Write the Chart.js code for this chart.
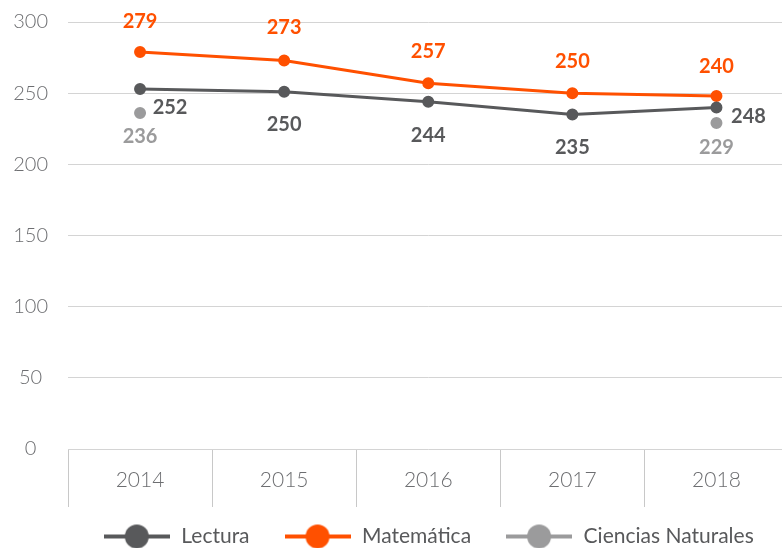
<!DOCTYPE html>
<html>
<head>
<meta charset="utf-8">
<script src="https://cdn.jsdelivr.net/npm/chart.js@4"></script>
<style>
  html, body { margin: 0; padding: 0; background: #fff; }
  #wrap { position: relative; width: 782px; height: 548px; overflow: hidden; }
  #chart { position: absolute; left: 0; top: 0; }
</style>
</head>
<body>
<div id="wrap"><canvas id="chart" width="796" height="557"></canvas></div>
<script>
// DATOS
const years = ["2014", "2015", "2016", "2017", "2018"];
const lectura = [253, 251, 244, 235, 240];
const matematica = [279, 273, 257, 250, 248];
const ciencias = [236, null, null, null, 229];

// textos de las etiquetas tal como aparecen
const lecturaLabels = ["252", "250", "244", "235", "248"];
const matematicaLabels = ["279", "273", "257", "250", "240"];
const cienciasLabels = ["236", "", "", "", "229"];

const yTicks = [0, 50, 100, 150, 200, 250, 300];

const colLectura = "#58595b";
const colMate = "#ff5000";
const colCiencias = "#9b9b9c";

// icono de leyenda: línea con círculo
function legendIcon(color) {
  const c = document.createElement("canvas");
  c.width = 66;
  c.height = 26;
  const ctx = c.getContext("2d");
  ctx.strokeStyle = color;
  ctx.lineWidth = 4;
  ctx.beginPath();
  ctx.moveTo(0, 13);
  ctx.lineTo(66, 13);
  ctx.stroke();
  ctx.fillStyle = color;
  ctx.beginPath();
  ctx.arc(33, 13, 12, 0, Math.PI * 2);
  ctx.fill();
  return c;
}

// etiquetas de valores
const valueLabels = {
  id: "valueLabels",
  afterDatasetsDraw(chart) {
    const ctx = chart.ctx;
    const sets = [
      { texts: lecturaLabels, color: colLectura,
        offs: [[30, 19], [0, 33], [0, 34], [0, 33], [32, 9]] },
      { texts: matematicaLabels, color: colMate,
        offs: [[0, -30], [0, -33], [0, -32], [0, -32], [0, -29]] },
      { texts: cienciasLabels, color: colCiencias,
        offs: [[0, 23], [0, 0], [0, 0], [0, 0], [0, 24]] }
    ];
    ctx.save();
    ctx.font = "bold 20px Lato";
    ctx.textAlign = "center";
    ctx.textBaseline = "middle";
    sets.forEach((s, i) => {
      const meta = chart.getDatasetMeta(i);
      meta.data.forEach((pt, j) => {
        if (!s.texts[j] || pt.skip) return;
        ctx.fillStyle = s.color;
        ctx.fillText(s.texts[j], pt.x + s.offs[j][0], pt.y + s.offs[j][1]);
      });
    });
    ctx.restore();
  }
};

new Chart(document.getElementById("chart"), {
  type: "line",
  data: {
    labels: years,
    datasets: [
      {
        label: "Lectura",
        data: lectura,
        borderColor: colLectura,
        backgroundColor: colLectura,
        borderWidth: 3,
        pointRadius: 4.5,
        legendIcon: legendIcon(colLectura)
      },
      {
        label: "Matemática",
        data: matematica,
        borderColor: colMate,
        backgroundColor: colMate,
        borderWidth: 3,
        pointRadius: 4.5,
        legendIcon: legendIcon(colMate)
      },
      {
        label: "Ciencias Naturales",
        data: ciencias,
        borderColor: colCiencias,
        backgroundColor: colCiencias,
        borderWidth: 3,
        pointRadius: 4.5,
        showLine: false,
        legendIcon: legendIcon(colCiencias)
      }
    ]
  },
  options: {
    responsive: false,
    animation: false,
    layout: { padding: { top: 22, left: 13, right: 0, bottom: 0 } },
    plugins: {
      tooltip: { enabled: false },
      legend: {
        position: "bottom",
        fullSize: false,
        labels: {
          usePointStyle: true,
          pointStyleWidth: 68,
          padding: 34,
          color: "#58595b",
          font: { family: "Lato", size: 21 },
          generateLabels(chart) {
            return chart.data.datasets.map((ds, i) => ({
              text: ds.label,
              pointStyle: ds.legendIcon,
              fillStyle: ds.borderColor,
              strokeStyle: ds.borderColor,
              fontColor: "#58595b",
              lineWidth: 0,
              hidden: false,
              datasetIndex: i
            }));
          }
        }
      }
    },
    scales: {
      x: {
        offset: true,
        border: { display: false },
        afterFit(scale) {
          scale.height = 43;
        },
        grid: {
          offset: true,
          drawOnChartArea: false,
          drawTicks: true,
          tickLength: 58,
          color: "#c8c8c8",
          lineWidth: 1
        },
        ticks: {
          padding: -39,
          color: "#6d6e71",
          font: { family: "Lato", size: 21, weight: 300 }
        }
      },
      y: {
        min: 0,
        max: 300,
        afterBuildTicks(scale) {
          scale.ticks = yTicks.map(v => ({ value: v }));
        },
        afterFit(scale) {
          scale.width = 55;
          scale.paddingTop = 0;
          scale.paddingBottom = 0;
        },
        border: { display: false },
        grid: {
          drawTicks: false,
          color: "#d4d4d4",
          lineWidth: 1
        },
        ticks: {
          padding: 20,
          crossAlign: "center",
          color: "#6d6e71",
          font: { family: "Lato", size: 20, weight: 300 }
        }
      }
    }
  },
  plugins: [valueLabels]
});
</script>
</body>
</html>
